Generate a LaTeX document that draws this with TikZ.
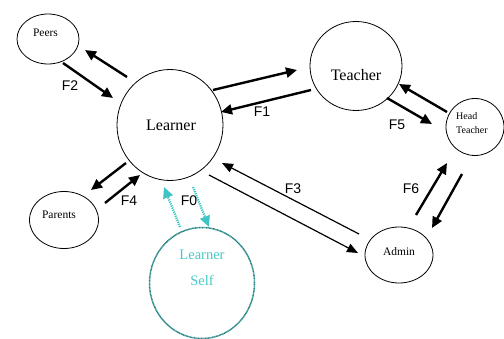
\documentclass[tikz,border=0pt]{standalone}
\usepackage{fontspec}
\setmainfont{Liberation Serif}
\newfontfamily\flowfont{Liberation Sans}
\usetikzlibrary{arrows.meta,shapes.geometric}

\definecolor{selfline}{RGB}{28,128,128}
\definecolor{selfarrow}{RGB}{62,196,196}
\definecolor{selftext}{RGB}{72,200,200}

\tikzset{
  actor/.style={ellipse, draw, line width=0.8pt, inner sep=0pt},
  flow/.style={line width=2.4pt, -{Triangle[length=11pt,width=10pt]}},
  thinflow/.style={line width=1.2pt, -{Triangle[length=11pt,width=9pt]}},
  selfflow/.style={selfarrow, line width=2.3pt, dash pattern=on 1.2pt off 1pt, -{Triangle[length=11pt,width=10pt]}},
  flabel/.style={font=\flowfont\fontsize{14}{14}\selectfont}
}

\begin{document}
\begin{tikzpicture}[x=1pt, y=-1pt]
    \useasboundingbox (0,0) rectangle (504,339);

    % Actors
    \node[actor, minimum width=62pt, minimum height=50pt] (peers) at (48,39) {};
    \node[actor, minimum width=106pt, minimum height=111pt] (learner) at (170,125) {};
    \node[actor, minimum width=92pt, minimum height=89pt] (teacher) at (356,66) {};
    \node[actor, minimum width=58pt, minimum height=57pt] (head) at (475,127) {};
    \node[actor, minimum width=69pt, minimum height=57pt] (parents) at (64,220) {};
    \node[actor, minimum width=68pt, minimum height=56pt] (admin) at (399,255) {};
    \node[actor, draw=selfline, line width=1.5pt, dash pattern=on 0.9pt off 0.5pt, minimum width=105pt, minimum height=111pt] (self) at (202,283) {};

    % Names
    \node[font=\fontsize{11.5}{12}\selectfont] (peers-t) at (45.5,33) {Peers};
    \node[font=\fontsize{16}{17}\selectfont] (learner-t) at (171,125) {Learner};
    \node[font=\fontsize{16}{17}\selectfont] (teacher-t) at (356,75) {Teacher};
    \node[font=\fontsize{10}{14}\selectfont, align=left, anchor=west, inner sep=0pt] (head-t) at (456,123) {Head\\Teacher};
    \node[font=\fontsize{11.5}{12}\selectfont] (parents-t) at (59,215) {Parents};
    \node[font=\fontsize{11.5}{12}\selectfont] (admin-t) at (399,252) {Admin};
    \node[font=\fontsize{14.5}{26}\selectfont, text=selftext, align=center] (self-t) at (202,268) {Learner\\Self};

    % Flows
    \draw[flow] ([shift={(-43,-48)}]learner.center) -- ([shift={(37,11)}]peers.center);
    \draw[flow] ([shift={(15,24)}]peers.center) -- ([shift={(-57,-27)}]learner.center);
    \draw[flow] ([shift={(43,-35)}]learner.center) -- ([shift={(-59,4)}]teacher.center);
    \draw[flow] ([shift={(-45,24)}]teacher.center) -- ([shift={(51,-13)}]learner.center);
    \draw[flow] ([shift={(-28,-15)}]head.center) -- ([shift={(43,18)}]teacher.center);
    \draw[flow] ([shift={(31,32)}]teacher.center) -- ([shift={(-43,-3)}]head.center);
    \draw[flow] ([shift={(17,-40)}]admin.center) -- ([shift={(-28,36)}]head.center);
    \draw[flow] ([shift={(-13,47)}]head.center) -- ([shift={(33,-27)}]admin.center);
    \draw[thinflow] ([shift={(-40,-21)}]admin.center) -- ([shift={(52,38)}]learner.center);
    \draw[thinflow] ([shift={(39,50)}]learner.center) -- ([shift={(-41,-2)}]admin.center);
    \draw[flow] ([shift={(-44,38)}]learner.center) -- ([shift={(27,-30)}]parents.center);
    \draw[flow] ([shift={(41,-17)}]parents.center) -- ([shift={(-30,50)}]learner.center);
    \draw[selfflow] ([shift={(-22,-56)}]self.center) -- ([shift={(-6,62)}]learner.center);
    \draw[selfflow] ([shift={(23,62)}]learner.center) -- ([shift={(7,-56)}]self.center);

    % Flow labels
    \node[flabel] (f0) at (189,201) {F0};
    \node[flabel] (f1) at (262,112) {F1};
    \node[flabel] (f2) at (70,86) {F2};
    \node[flabel] (f3) at (293,189) {F3};
    \node[flabel] (f4) at (129,201) {F4};
    \node[flabel] (f5) at (397,125) {F5};
    \node[flabel] (f6) at (411,189) {F6};
\end{tikzpicture}
\end{document}
